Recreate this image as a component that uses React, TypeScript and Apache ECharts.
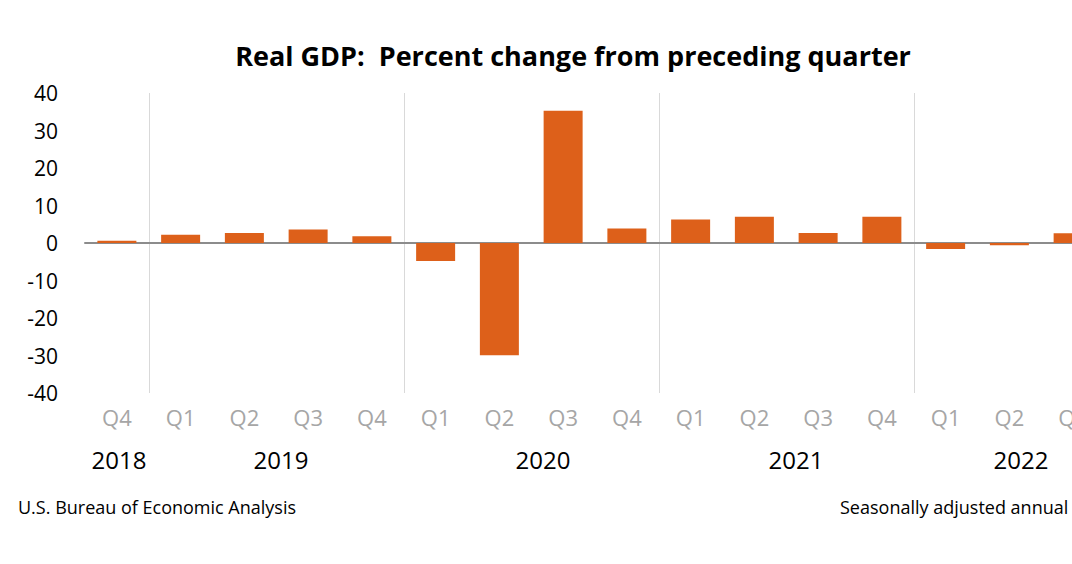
import React, { useEffect, useRef } from "react";
import * as echarts from "echarts";

const quarters = ["Q4", "Q1", "Q2", "Q3", "Q4", "Q1", "Q2", "Q3", "Q4", "Q1", "Q2", "Q3", "Q4", "Q1", "Q2", "Q3"];
const gdpChange = [0.6, 2.2, 2.7, 3.6, 1.8, -4.8, -29.9, 35.3, 3.9, 6.3, 7.0, 2.7, 7.0, -1.6, -0.6, 2.6];
const years = ["2018", "2019", "2020", "2021", "2022"];
const yearStartIndex = [1, 5, 9, 13];
const yTicks = { min: -40, max: 40, interval: 10 };
const titleText = "Real GDP:  Percent change from preceding quarter";
const sourceText = "U.S. Bureau of Economic Analysis";
const noteText = "Seasonally adjusted annual rates";

const FONT = "'Open Sans', 'Liberation Sans', sans-serif";

export default function App() {
  const ref = useRef<HTMLDivElement>(null);
  useEffect(() => {
    if (!ref.current) return;
    const chart = echarts.init(ref.current, null, { renderer: "svg" });
    const yearX = [119, 281, 543, 796, 1021];
    chart.setOption({
      animation: false,
      backgroundColor: "#ffffff",
      textStyle: { fontFamily: FONT },
      grid: { left: 85, top: 93, width: 1020, height: 300, containLabel: false },
      xAxis: [
        {
          type: "category",
          data: quarters,
          boundaryGap: true,
          axisLine: { show: true, onZero: true, lineStyle: { color: "#8c8c8c", width: 2 } },
          axisTick: { show: false },
          axisLabel: { show: false },
          splitLine: {
            show: true,
            interval: (i: number) => yearStartIndex.indexOf(i) >= 0,
            lineStyle: { color: "#d9d9d9", width: 1 },
          },
        },
        {
          type: "category",
          data: quarters,
          position: "bottom",
          boundaryGap: true,
          axisLine: { show: false },
          axisTick: { show: false },
          axisLabel: { show: true, interval: 0, color: "#a6a6a6", fontSize: 22, margin: 13, fontFamily: FONT },
          splitLine: { show: false },
        },
      ],
      yAxis: {
        type: "value",
        min: yTicks.min,
        max: yTicks.max,
        interval: yTicks.interval,
        axisLine: { show: false },
        axisTick: { show: false },
        splitLine: { show: false },
        axisLabel: { color: "#000000", fontSize: 21, margin: 27, fontFamily: FONT },
      },
      series: [
        {
          type: "bar",
          xAxisIndex: 0,
          data: gdpChange,
          barWidth: 39,
          itemStyle: { color: "#dd601a" },
        },
      ],
      graphic: [
        {
          type: "text",
          x: 573,
          y: 55,
          style: {
            text: titleText,
            font: `bold 27px ${FONT}`,
            fill: "#000000",
            align: "center",
            verticalAlign: "middle",
          },
        },
        ...years.map((y, i) => ({
          type: "text",
          x: yearX[i],
          y: 459,
          style: {
            text: y,
            font: `24px ${FONT}`,
            fill: "#000000",
            align: "center",
            verticalAlign: "middle",
          },
        })),
        {
          type: "text",
          x: 18,
          y: 507,
          style: { text: sourceText, font: `18px ${FONT}`, fill: "#000000", align: "left", verticalAlign: "middle" },
        },
        {
          type: "text",
          x: 840,
          y: 507,
          style: { text: noteText, font: `18px ${FONT}`, fill: "#000000", align: "left", verticalAlign: "middle" },
        },
      ],
    });
    return () => chart.dispose();
  }, []);
  return (
    <div style={{ position: "fixed", left: 0, top: 0, width: 1072, height: 564, overflow: "hidden", background: "#fff" }}>
      <div ref={ref} style={{ width: 1120, height: 564 }} />
    </div>
  );
}
